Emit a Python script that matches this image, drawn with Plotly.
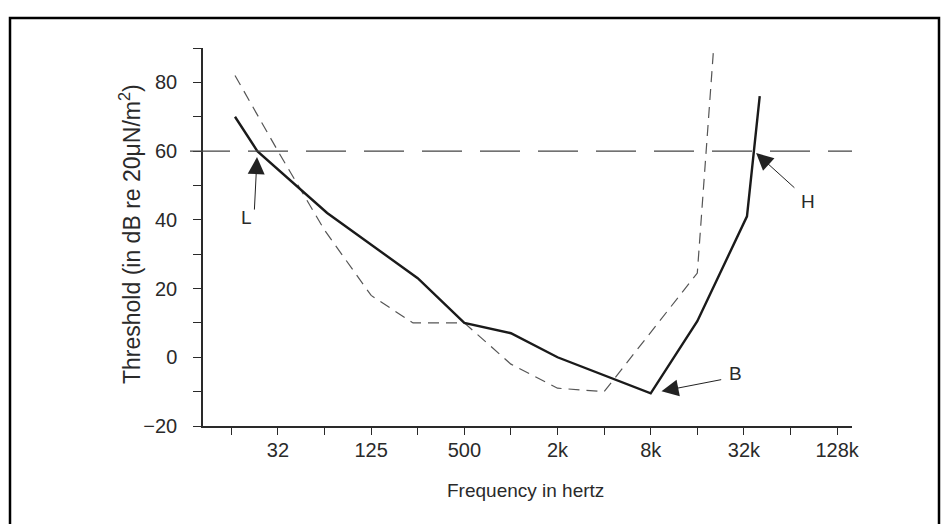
import numpy as np
import plotly.graph_objects as go

# ---------------- data ----------------
# solid audiogram curve (frequency in Hz, threshold in dB)
solid_freq_hz = [16.5, 23, 65, 250, 500, 1000, 2000, 8000, 16000, 33500, 40500]
solid_db = [70, 60, 42, 23, 10, 7, 0, -10.5, 10.5, 41, 76]

# thin dashed comparison curve
dashed_freq_hz = [16.5, 31.25, 62.5, 125, 233, 500, 1000, 2000, 4000, 16000, 20400]
dashed_db = [82, 60, 37, 18, 10, 10, -2, -9, -10, 24.5, 90]

# 60 dB reference level
reference_level_db = 60

# axis ticks
x_tick_hz = [15.625, 31.25, 62.5, 125, 250, 500, 1000, 2000, 4000, 8000,
             16000, 32000, 64000, 128000]
x_tick_labels = ["", "32", "", "125", "", "500", "", "2k", "", "8k",
                 "", "32k", "", "128k"]
y_tick_db = [-20, -10, 0, 10, 20, 30, 40, 50, 60, 70, 80, 90]
y_tick_labels = ["−20", "", "0", "", "20", "", "40", "", "60", "", "80", ""]

# ---------------- layout geometry ----------------
W, H = 949, 524
PL, PR, PT, PB = 203, 852, 48, 426          # plot-area pixel box
pw, ph = PR - PL, PB - PT

def px_x(p):
    return (p - PL) / pw

def px_y(p):
    return (PB - p) / ph

x_range = [np.log10(10.25), np.log10(159800)]
y_range = [-20, 90]

FONT = "Liberation Sans, Arial, Helvetica, sans-serif"
INK = "#2a2a2a"

fig = go.Figure()

fig.add_trace(go.Scatter(
    x=dashed_freq_hz, y=dashed_db, mode="lines",
    line=dict(color="#555555", width=1.2, dash="11px,7px"),
    hoverinfo="skip", showlegend=False))

fig.add_trace(go.Scatter(
    x=solid_freq_hz, y=solid_db, mode="lines",
    line=dict(color="#1a1a1a", width=2.4),
    hoverinfo="skip", showlegend=False))

# reference line at 60 dB
fig.add_shape(type="line", xref="paper", yref="y",
              x0=px_x(190), x1=1.0, y0=reference_level_db, y1=reference_level_db,
              line=dict(color="#444444", width=1.3, dash="40px,18px"))

# outer frame
fig.add_shape(type="rect", xref="paper", yref="paper",
              x0=px_x(10), x1=px_x(939), y0=px_y(540), y1=px_y(18),
              line=dict(color="black", width=2.5))

# --- annotation anchor points derived from the data ---
logf = np.log10(solid_freq_hz)
# L: low-frequency crossing of the 60 dB level
l_idx = solid_db.index(reference_level_db)
l_x, l_y = logf[l_idx], solid_db[l_idx]
# B: best frequency (minimum threshold)
b_idx = int(np.argmin(solid_db))
b_x, b_y = logf[b_idx], solid_db[b_idx]
# H: high-frequency crossing of the 60 dB level
h_x = float(np.interp(reference_level_db, solid_db[-2:], logf[-2:]))
h_y = reference_level_db

arrow = dict(showarrow=True, arrowhead=2, arrowsize=3.4, arrowwidth=1,
             arrowcolor="#222222", axref="pixel", ayref="pixel", text="")
lab_font = dict(family=FONT, size=19, color=INK)

annotations = [
    dict(x=l_x, y=l_y, ax=-3, ay=60, standoff=6, **arrow),
    dict(x=l_x, y=l_y, text="L", showarrow=False, xshift=-11, yshift=-66,
         xanchor="center", yanchor="middle", font=lab_font),
    dict(x=b_x, y=b_y, ax=72, ay=-14, standoff=11, **arrow),
    dict(x=b_x, y=b_y, text="B", showarrow=False, xshift=85, yshift=20,
         xanchor="center", yanchor="middle", font=lab_font),
    dict(x=h_x, y=h_y, ax=42, ay=38, standoff=3, **arrow),
    dict(x=h_x, y=h_y, text="H", showarrow=False, xshift=54, yshift=-50,
         xanchor="center", yanchor="middle", font=lab_font),
    # axis titles
    dict(xref="paper", yref="paper", x=px_x(525), y=px_y(490),
         xanchor="center", yanchor="middle",
         text="Frequency in hertz", showarrow=False,
         font=dict(family=FONT, size=19, color=INK)),
    dict(xref="paper", yref="paper", x=px_x(130), y=px_y(234),
         xanchor="center", yanchor="middle",
         text="Threshold (in dB re 20μN/m<sup>2</sup>)", showarrow=False,
         textangle=-90, font=dict(family=FONT, size=23, color=INK)),
]
fig.update_layout(annotations=annotations)

fig.update_xaxes(type="log", range=x_range, tickmode="array",
                 tickvals=x_tick_hz, ticktext=x_tick_labels,
                 ticks="outside", ticklen=7, tickwidth=1.3, tickcolor=INK,
                 showline=True, linecolor=INK, linewidth=1.5,
                 showgrid=False, zeroline=False, ticklabelstandoff=-2,
                 tickfont=dict(family=FONT, size=20, color=INK))
fig.update_yaxes(range=y_range, tickmode="array",
                 tickvals=y_tick_db, ticktext=y_tick_labels,
                 ticks="outside", ticklen=8, tickwidth=1.3, tickcolor=INK,
                 showline=True, linecolor=INK, linewidth=1.5,
                 showgrid=False, zeroline=False, ticklabelstandoff=12,
                 tickfont=dict(family=FONT, size=20, color=INK))

fig.update_layout(width=W, height=H,
                  margin=dict(l=PL, r=W - PR, t=PT, b=H - PB, pad=0),
                  paper_bgcolor="white", plot_bgcolor="white",
                  showlegend=False, font=dict(family=FONT, color=INK))

fig.write_html(
    "out.html",
    config={"displayModeBar": False},
    post_script="document.body.style.margin='0';document.body.style.overflow='hidden';",
)
